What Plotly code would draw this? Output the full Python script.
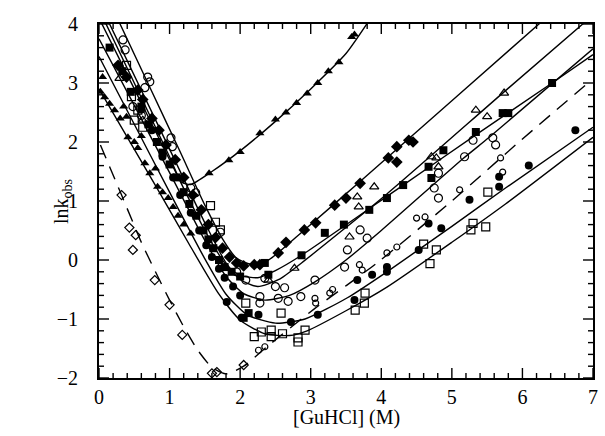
import plotly.graph_objects as go

# ---------------- fitted curves ----------------
c1_x = [0.2, 0.7, 1.14, 1.5, 1.75, 1.95, 2.15, 2.4, 2.91, 3.7, 5.0, 6.5]
c1_y = [4.25, 2.98, 1.86, 0.93, 0.36, 0.03, -0.07, 0.0, 0.51, 1.33, 2.7, 4.28]

c2_x = [0.05, 1.0, 1.5, 1.8, 2.0, 2.25, 2.55, 2.87, 4.08, 5.74, 7.0]
c2_y = [4.25, 1.88, 0.63, -0.05, -0.33, -0.45, -0.33, -0.05, 1.12, 2.85, 4.15]

tri_x = [0.0, 0.6, 1.0, 1.17, 1.3, 1.6, 2.0, 2.5, 3.0, 3.5, 3.85]
tri_y = [4.25, 2.75, 1.75, 1.32, 1.28, 1.5, 1.85, 2.35, 2.9, 3.5, 4.1]

c3_x = [0.0, 0.5, 1.0, 1.5, 1.8, 2.0, 2.25, 2.5, 2.87, 4.31, 5.34, 6.42, 7.0]
c3_y = [4.1, 2.9, 1.7, 0.5, -0.08, -0.26, -0.3, -0.18, 0.08, 1.27, 2.12, 3.0, 3.48]

c4_x = [0.0, 0.5, 1.0, 1.5, 1.8, 2.05, 2.35, 2.7, 3.06, 3.5, 4.0, 5.16, 5.53, 7.0]
c4_y = [3.75, 2.62, 1.48, 0.33, -0.28, -0.57, -0.68, -0.6, -0.37, 0.0, 0.5, 1.72, 2.08, 3.58]

c5_x = [0.0, 0.5, 1.0, 1.5, 1.8, 2.1, 2.5, 2.92, 3.52, 4.08, 5.0, 5.76, 7.0]
c5_y = [3.45, 2.3, 1.15, 0.02, -0.58, -0.93, -1.07, -1.0, -0.64, -0.2, 0.57, 1.22, 2.25]

c6_x = [0.0, 0.83, 1.3, 1.7, 2.0, 2.35, 2.7, 2.95, 3.5, 4.08, 5.0, 5.76, 7.0]
c6_y = [2.9, 1.2, 0.22, -0.58, -1.02, -1.25, -1.28, -1.2, -0.86, -0.46, 0.3, 0.95, 2.08]

dash_x = [0.02, 0.32, 0.6, 0.8, 1.0, 1.2, 1.4, 1.6, 1.8, 2.05, 2.4, 3.06, 3.94, 5.0, 5.97, 6.93]
dash_y = [1.95, 1.1, 0.3, -0.2, -0.68, -1.13, -1.53, -1.82, -1.93, -1.8, -1.45, -0.82, -0.05, 1.0, 2.02, 3.0]

# ---------------- data points ----------------
fd_x = [0.27, 0.39, 0.55, 0.62, 0.75, 0.85, 0.95, 1.08, 1.2, 1.33, 1.45, 1.55, 1.65, 1.75, 1.85,
        1.95, 2.05, 2.2, 2.28, 2.54, 2.65, 2.91, 3.07, 3.34, 3.5, 3.7, 4.1, 4.22, 4.22, 4.39, 4.45]
fd_y = [3.3, 3.1, 2.88, 2.72, 2.4, 2.2, 1.95, 1.7, 1.4, 1.1, 0.85, 0.6, 0.38, 0.2, 0.05,
        -0.05, -0.1, -0.08, -0.08, 0.12, 0.3, 0.51, 0.63, 0.93, 1.05, 1.3, 1.73, 1.66, 1.92, 2.03, 2.0]

fs_x = [0.15, 0.33, 0.45, 0.6, 0.7, 0.82, 0.9, 1.0, 1.1, 1.2, 1.28, 1.38, 1.48, 1.55, 1.62, 1.7,
        1.78, 1.88, 2.0, 2.05, 2.12, 2.35, 2.4, 2.87, 3.2, 3.47, 3.83, 4.08, 4.31, 4.67, 4.71,
        4.88, 5.34, 5.72, 5.8, 6.42]
fs_y = [3.6, 3.2, 2.85, 2.6, 2.3, 2.0, 1.82, 1.62, 1.4, 1.15, 0.95, 0.75, 0.5, 0.35, 0.2, 0.0,
        -0.12, -0.2, -0.28, -0.98, -0.9, -0.05, -0.25, 0.08, 0.46, 0.6, 0.85, 1.05, 1.27, 1.58, 1.39,
        1.86, 2.17, 2.49, 2.49, 3.0]

fc_x = [0.6, 0.75, 0.9, 1.05, 1.15, 1.3, 1.42, 1.52, 1.6, 1.7, 1.78, 1.81, 1.9, 2.0, 2.02, 2.26,
        2.72, 3.1, 3.62, 3.66, 3.87, 4.08, 4.08, 4.53, 4.67, 4.85, 5.25, 5.67, 5.67, 6.09, 6.75]
fc_y = [2.55, 2.2, 1.75, 1.4, 1.1, 0.8, 0.5, 0.25, 0.05, -0.15, -0.3, -0.71, -0.45, -0.6, -0.98, -0.93,
        -1.05, -0.93, -0.68, -0.34, -0.25, -0.12, -0.2, 0.17, 0.62, 0.54, 1.02, 1.24, 1.41, 1.6, 2.2]

oc_x = [0.34, 0.37, 0.69, 0.72, 0.65, 1.02, 1.04, 1.3, 1.37, 1.72, 0.6, 0.48, 2.08, 1.95,
        2.35, 2.5, 2.28, 2.28, 2.54, 2.68, 2.63, 2.86, 3.06, 3.48, 3.52, 3.7, 3.8, 4.75, 4.81,
        4.81, 5.18, 5.3, 5.58, 5.62]
oc_y = [3.73, 3.56, 3.1, 3.02, 2.92, 2.07, 1.92, 1.22, 1.14, 0.47, 2.45, 2.6, -0.34, -0.2,
        -0.31, -0.45, -0.62, -0.73, -0.65, -0.7, -0.47, -0.62, -0.34, -0.12, 0.17, 0.51, 0.37, 1.22, 1.05,
        1.47, 1.75, 2.03, 2.07, 1.95]

os_x = [0.39, 0.46, 0.5, 0.55, 0.62, 1.58, 1.65, 1.72, 2.08, 2.3, 2.44, 2.44, 2.58, 2.82, 2.82,
        2.92, 2.2, 2.6, 3.63, 3.76, 3.77, 4.6, 4.69, 4.78, 5.27, 5.3, 5.48, 5.51]
os_y = [3.3, 2.77, 2.37, 2.54, 2.25, 0.92, 0.64, 0.51, -0.73, -1.22, -1.19, -1.3, -0.9, -1.32, -1.39,
        -1.19, -1.3, -1.25, -0.85, -0.73, -0.56, 0.27, -0.06, 0.17, 0.51, 0.62, 0.56, 1.15]

ot_x = [0.29, 0.62, 2.4, 2.77, 3.55, 3.66, 3.68, 3.9, 4.71, 4.81, 4.78, 5.34, 5.5, 5.74]
ot_y = [3.08, 2.37, -0.34, -0.14, 0.39, 1.07, 0.9, 1.24, 1.75, 1.58, 1.73, 2.54, 2.43, 2.83]

ft_x = [0.02, 0.08, 0.15, 0.22, 0.3, 0.39, 0.41, 0.5, 0.55, 0.65, 0.72, 0.8, 0.83, 0.9, 0.98,
        1.05, 1.12, 1.2, 1.3, 0.05, 0.35, 0.6,
        1.56, 1.84, 2.0, 2.28, 2.5, 2.65, 2.8, 2.95, 3.1, 3.25, 3.4, 3.58, 3.62]
ft_y = [2.85, 2.76, 2.65, 2.54, 2.4, 2.43, 2.08, 2.0, 1.9, 1.64, 1.47, 1.55, 1.24, 1.15, 1.05,
        0.9, 0.75, 0.6, 0.45, 3.1, 2.6, 2.1,
        1.47, 1.69, 1.83, 2.15, 2.38, 2.5, 2.66, 2.82, 3.0, 3.2, 3.35, 3.78, 3.82]

sd_x = [0.32, 0.43, 0.52, 0.48, 0.79, 1.0, 1.18, 1.6, 1.67, 2.05]
sd_y = [1.1, 0.55, 0.42, 0.17, -0.34, -0.76, -1.27, -1.92, -1.9, -1.78]

sc_x = [2.26, 2.35, 3.06, 3.07, 3.27, 3.31, 3.69, 3.73, 4.08, 4.22, 4.5, 4.62, 5.11, 5.69, 5.72]
sc_y = [-1.53, -1.47, -0.65, -0.73, -0.56, -0.5, -0.08, -0.17, 0.12, 0.22, 0.71, 0.73, 1.19, 1.73, 1.49]

X_RANGE = [0, 7]
Y_RANGE = [-2, 4]

FONT = "Liberation Serif"
fig = go.Figure()

for cx, cy in [(c1_x, c1_y), (c2_x, c2_y), (tri_x, tri_y), (c3_x, c3_y),
               (c4_x, c4_y), (c5_x, c5_y), (c6_x, c6_y)]:
    fig.add_trace(go.Scatter(x=cx, y=cy, mode="lines",
                             line=dict(color="black", width=1.4, shape="spline", smoothing=0.6),
                             hoverinfo="skip", showlegend=False))
fig.add_trace(go.Scatter(x=dash_x, y=dash_y, mode="lines",
                         line=dict(color="black", width=1.4, shape="spline", smoothing=0.6,
                                   dash="14px,9px"),
                         showlegend=False))

def pts(x, y, sym, size, lw=1.2):
    fig.add_trace(go.Scatter(x=x, y=y, mode="markers",
                             marker=dict(symbol=sym, size=size, color="black",
                                         line=dict(color="black", width=lw)),
                             showlegend=False, cliponaxis=True))

pts(os_x, os_y, "square-open", 8)
pts(oc_x, oc_y, "circle-open", 8)
pts(ot_x, ot_y, "triangle-up-open", 8)
pts(sd_x, sd_y, "diamond-open", 7)
pts(sc_x, sc_y, "circle-open", 6)
pts(fd_x, fd_y, "diamond", 9, 0)
pts(fs_x, fs_y, "square", 8, 0)
pts(fc_x, fc_y, "circle", 8, 0)
pts(ft_x, ft_y, "triangle-up", 8, 0)

# inside tick marks on all four sides (major every 1, minor every 0.2)
tick_line = dict(color="black", width=1.4)
for i in range(X_RANGE[0] * 5, X_RANGE[1] * 5 + 1):
    v = i / 5
    L = 10 if i % 5 == 0 else 5
    for anchor, sgn in [(Y_RANGE[0], 1), (Y_RANGE[1], -1)]:
        fig.add_shape(type="line", xref="x", yref="y", x0=v, x1=v,
                      ysizemode="pixel", yanchor=anchor, y0=0, y1=sgn * L,
                      line=tick_line, layer="above")
for i in range(Y_RANGE[0] * 5, Y_RANGE[1] * 5 + 1):
    v = i / 5
    L = 10 if i % 5 == 0 else 5
    for anchor, sgn in [(X_RANGE[0], 1), (X_RANGE[1], -1)]:
        fig.add_shape(type="line", xref="x", yref="y", y0=v, y1=v,
                      xsizemode="pixel", xanchor=anchor, x0=0, x1=sgn * L,
                      line=tick_line, layer="above")

fig.update_xaxes(range=X_RANGE, dtick=1,
                 showgrid=False, zeroline=False, showline=True, linecolor="black",
                 linewidth=1.8, mirror=True, ticks="",
                 tickfont=dict(family=FONT, size=20, color="black"))
fig.update_yaxes(range=Y_RANGE, dtick=1,
                 showgrid=False, zeroline=False, showline=True, linecolor="black",
                 linewidth=1.8, mirror=True, ticks="",
                 ticksuffix="\u00a0\u00a0\u00a0",
                 tickfont=dict(family=FONT, size=20, color="black"))

fig.add_annotation(text="[GuHCl] (M)", xref="paper", yref="paper",
                   x=0.5, y=-0.112, xanchor="center", yanchor="middle",
                   showarrow=False, font=dict(family=FONT, size=20, color="black"))
fig.add_annotation(text="lnk<sub>obs</sub>", xref="paper", yref="paper",
                   x=-0.075, y=0.5, xanchor="center", yanchor="middle", textangle=-90,
                   showarrow=False, font=dict(family=FONT, size=20, color="black"))

fig.update_layout(width=605, height=436, margin=dict(l=99, r=7, t=24, b=58),
                  paper_bgcolor="white", plot_bgcolor="white")

fig.write_html("out.html")
